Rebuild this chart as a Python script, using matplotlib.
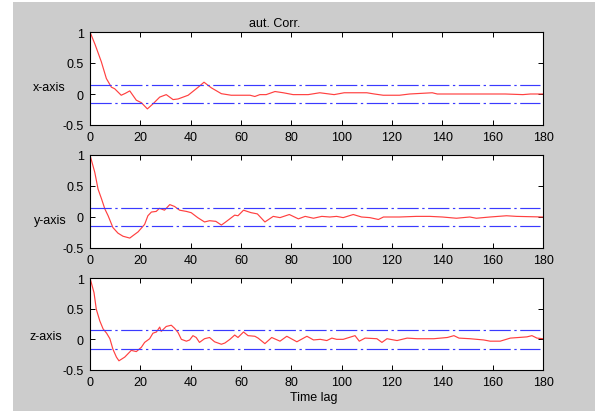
import matplotlib
matplotlib.use("Agg")
import matplotlib.pyplot as plt
from matplotlib.patches import Rectangle

plt.rcParams['font.family'] = ['Liberation Sans', 'DejaVu Sans']

lags_x = [0, 2, 4.5, 6.5, 8.5, 9.8, 12.4, 14, 15.8, 18.4, 20.4, 22.8, 25, 27.7, 30.3, 33, 35, 37, 39, 43,
          45.3, 48.2, 52.2, 56.1, 61.5, 63.6, 65.5, 67.5, 70, 73.5, 76.8, 80.7, 86.7, 91.3, 97, 101, 110, 113,
          116.5, 123, 127, 136, 138, 150, 165, 172, 175, 180]
vals_x = [1.0, 0.80, 0.52, 0.25, 0.11, 0.085, -0.02, 0.01, 0.05, -0.10, -0.14, -0.24, -0.16, -0.05, -0.01,
          -0.09, -0.08, -0.05, -0.02, 0.11, 0.19, 0.10, 0.005, -0.02, -0.02, -0.02, -0.04, -0.01, -0.01, 0.04,
          0.02, -0.01, -0.01, 0.02, -0.01, 0.02, 0.02, 0.0, -0.02, -0.02, 0.0, 0.02, 0.0, 0.0, 0.0, -0.01, 0.0, 0.0]

lags_y = [0, 1.9, 3.2, 4.6, 5.9, 7.2, 9.1, 11.1, 13.1, 15.8, 17.1, 19.1, 21.7, 23, 24.4, 26.3, 27.6, 29.6,
          31.7, 33.6, 35.6, 38.3, 40.2, 42.8, 45.5, 47.5, 50, 52.2, 53.6, 57.5, 58.8, 61, 64, 66.5, 69.5, 72.8,
          75.5, 79.2, 82.8, 85.5, 88.8, 92.1, 95.3, 98, 100.6, 104.6, 107.9, 111.2, 114.6, 116.6, 123, 129.7,
          135, 140, 145.6, 150.9, 153.5, 158.9, 165.5, 169.5, 180]
vals_y = [1.0, 0.72, 0.45, 0.29, 0.13, 0.02, -0.17, -0.26, -0.31, -0.34, -0.30, -0.24, -0.12, 0.02, 0.08,
          0.09, 0.14, 0.11, 0.20, 0.17, 0.11, 0.09, 0.07, -0.01, -0.08, -0.06, -0.07, -0.13, -0.09, 0.03, 0.02,
          0.11, 0.07, 0.05, -0.08, 0.01, -0.01, 0.04, -0.03, 0.01, -0.02, 0.01, 0.0, 0.01, -0.01, 0.04, 0.0,
          -0.01, -0.04, 0.0, 0.0, 0.01, 0.01, 0.0, -0.02, 0.0, -0.02, 0.0, 0.02, 0.01, 0.0]

lags_z = [0, 1.6, 2.5, 3.9, 5.2, 6.6, 7.9, 9.1, 10.5, 11.5, 13.8, 16.4, 18.4, 20.4, 21.7, 23.7, 25, 26.4,
          27.7, 28.3, 30.3, 32.3, 33.6, 35, 36.3, 38.3, 39.6, 40.9, 42.2, 43.5, 45.5, 47.5, 49.5, 52.2, 53.6,
          55.6, 57.5, 58.8, 61, 62.8, 65.5, 66.8, 69.5, 72.2, 75.5, 78.2, 82.2, 86.2, 88.8, 91.5, 94.1, 96.1,
          98, 100.6, 105.3, 107, 109.3, 114, 116, 118, 122, 126, 130, 136.6, 142, 144.6, 146.6, 151, 156.4,
          159, 163, 167, 173.6, 175.6, 177.6, 180]
vals_z = [1.0, 0.76, 0.49, 0.30, 0.17, 0.10, 0.01, -0.16, -0.29, -0.35, -0.29, -0.18, -0.20, -0.13, -0.05,
          0.01, 0.10, 0.12, 0.20, 0.13, 0.21, 0.23, 0.18, 0.11, 0.0, -0.03, -0.01, 0.06, 0.03, -0.05, 0.01,
          0.03, -0.04, -0.08, -0.06, 0.0, 0.07, 0.03, 0.12, 0.06, 0.05, 0.02, -0.07, 0.03, -0.03, 0.05, -0.04,
          0.05, -0.01, 0.0, -0.02, 0.02, 0.0, 0.0, 0.06, -0.03, 0.02, 0.01, -0.05, 0.01, -0.02, 0.02, 0.01,
          0.01, 0.03, 0.06, 0.02, 0.01, -0.01, -0.03, -0.03, 0.02, 0.04, 0.06, 0.02, 0.01]

bound = 0.15
bound_lags = [0, 179]
panel_labels = ['x-axis', 'y-axis', 'z-axis']
xticks = [0, 20, 40, 60, 80, 100, 120, 140, 160, 180]
yticks = [-0.5, 0, 0.5, 1]
ytick_labels = ['-0.5', '0', '0.5', '1']
title = 'aut. Corr.'
xlabel = 'Time lag'

W, H = 595, 414
fig = plt.figure(figsize=(W / 100, H / 100), dpi=100)
fig.patch.set_facecolor('white')
fig.patches.append(Rectangle((13 / W, 2 / H), 1 - 13 / W, 1 - 5 / H, transform=fig.transFigure,
                             facecolor='#cccccc', edgecolor='none', zorder=-10))

series = [(lags_x, vals_x), (lags_y, vals_y), (lags_z, vals_z)]
tops = [33, 156, 279]
bottoms = [126, 249, 371]
label_pos = [(49, 88), (50, 221), (46, 337)]
left, right = 90, 543

for i, (lg, vl) in enumerate(series):
    ax = fig.add_axes([left / W, 1 - bottoms[i] / H, (right - left) / W, (bottoms[i] - tops[i]) / H])
    ax.set_facecolor('white')
    ax.plot(lg, vl, color='#ff4040', lw=0.85, solid_joinstyle='round')
    for b in (bound, -bound):
        ax.plot(bound_lags, [b, b], color='#3a3aff', lw=0.85, dashes=(18, 3, 2, 3))
    ax.set_xlim(0, 180)
    ax.set_ylim(-0.5, 1)
    ax.set_xticks(xticks)
    ax.set_xticklabels([str(t) for t in xticks])
    ax.set_yticks(yticks)
    ax.set_yticklabels(ytick_labels)
    ax.tick_params(direction='in', top=True, right=True, length=3.5, width=0.7,
                   labelsize=9, pad=4.5, colors='black')
    for s in ax.spines.values():
        s.set_linewidth(0.8)
        s.set_color('black')
    fig.text(label_pos[i][0] / W, 1 - label_pos[i][1] / H, panel_labels[i], ha='center', va='center', fontsize=9)

fig.text(275 / W, 1 - 24 / H, title, ha='center', va='center', fontsize=9)
fig.text(314 / W, 1 - 398 / H, xlabel, ha='center', va='center', fontsize=9)

fig.savefig('out.png', dpi=100, facecolor=fig.get_facecolor())
